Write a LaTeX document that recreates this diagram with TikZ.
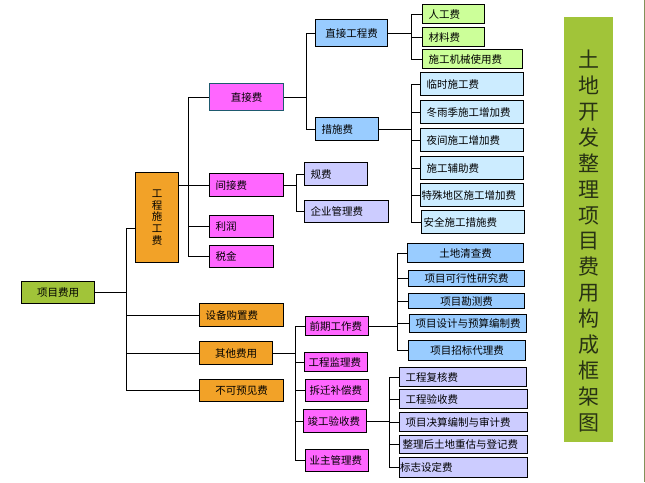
\documentclass[tikz,border=0pt]{standalone}
\usepackage{fontspec}
\usepackage{xcolor}
\usepackage{tikz}
\usetikzlibrary{positioning,calc}
\newfontfamily\cjk{Noto Sans CJK SC}

\definecolor{olivebox}{RGB}{161,196,57}
\definecolor{orangebox}{RGB}{242,162,40}
\definecolor{magbox}{RGB}{255,102,255}
\definecolor{bluebox}{RGB}{153,204,255}
\definecolor{paleblue}{RGB}{204,236,255}
\definecolor{palegreen}{RGB}{204,255,153}
\definecolor{lavbox}{RGB}{204,204,255}
\definecolor{titletext}{RGB}{40,50,20}
\definecolor{edgeline}{RGB}{130,145,90}

\tikzset{
    box/.style={draw=black, line width=1.1pt, anchor=north west, inner ysep=0pt,
        font=\cjk\fontsize{10.5}{12}\selectfont},
    lbox/.style={box, inner xsep=6pt, align=left, text width=#1},
    link/.style={line width=1pt},
}

\begin{document}
\begin{tikzpicture}[x=1pt, y=-1pt]
    \useasboundingbox (0,0) rectangle (645,482);

    % title strip
    \fill[olivebox] (564,17) rectangle (613,442);
    \draw[edgeline, line width=1pt] (644,0) -- (644,482);
    \node[font=\cjk\fontsize{21}{25.9}\selectfont, text=titletext, align=center] (title) at (588.5,241)
        {土\\地\\开\\发\\整\\理\\项\\目\\费\\用\\构\\成\\框\\架\\图};

    % level 0 and 1
    \node[box, fill=olivebox, minimum width=73, minimum height=22] (xmfy) at (21,281) {项目费用};
    \node[box, fill=orangebox, minimum width=43, minimum height=90, align=center,
        font=\cjk\fontsize{10.5}{11.6}\selectfont] (gcsgf) at (135,172) {工\\程\\施\\工\\费};
    \node[lbox=72pt, fill=orangebox, minimum width=84, minimum height=23] (sbgzf) at (199,303) {设备购置费};
    \node[box, fill=orangebox, minimum width=73, minimum height=23] (qtfy) at (199,341) {其他费用};
    \node[box, fill=orangebox, minimum width=84, minimum height=22] (bkyjf) at (199,379) {不可预见费};

    % level 2
    \node[box, draw={rgb,255:red,30;green,90;blue,110}, fill=magbox, minimum width=74, minimum height=27] (zjf) at (209,83) {直接费};
    \node[lbox=62pt, fill=magbox, minimum width=74, minimum height=23] (jjf) at (209,173) {间接费};
    \node[lbox=52pt, fill=magbox, minimum width=64, minimum height=22] (lr) at (209,215) {利润};
    \node[lbox=52pt, fill=magbox, minimum width=64, minimum height=22] (sj) at (209,245) {税金};

    % level 3
    \node[box, fill=bluebox, minimum width=72, minimum height=27] (zjgcf) at (315,19) {直接工程费};
    \node[lbox=51pt, fill=bluebox, minimum width=63, minimum height=23] (csf) at (315,117) {措施费};
    \node[lbox=51pt, fill=lavbox, minimum width=63, minimum height=23] (gf) at (304,162) {规费};
    \node[lbox=72pt, fill=lavbox, minimum width=84, minimum height=22] (qyglf) at (304,200) {企业管理费};

    % direct engineering items
    \node[lbox=50pt, fill=palegreen, minimum width=62, minimum height=19] (rgf) at (422,4) {人工费};
    \node[lbox=50pt, fill=palegreen, minimum width=62, minimum height=19] (clf) at (422,27) {材料费};
    \node[lbox=88pt, fill=palegreen, minimum width=100, minimum height=19] (sgjxsyf) at (422,49) {施工机械使用费};

    % measure items
    \node[lbox=91pt, fill=paleblue, minimum width=103, minimum height=23] (lssgf) at (420,72) {临时施工费};
    \node[lbox=91pt, fill=paleblue, minimum width=103, minimum height=23] (dyjsgzjf) at (420,100) {冬雨季施工增加费};
    \node[lbox=91pt, fill=paleblue, minimum width=103, minimum height=23] (yjsgzjf) at (420,128) {夜间施工增加费};
    \node[lbox=91pt, fill=paleblue, minimum width=103, minimum height=23] (sgfzf) at (420,156) {施工辅助费};
    \node[lbox=101pt, inner xsep=1pt, fill=paleblue, minimum width=103, minimum height=23] (tsdqsgzjf) at (420,183) {特殊地区施工增加费};
    \node[lbox=99pt, inner xsep=2pt, fill=paleblue, minimum width=103, minimum height=23] (aqsgcsf) at (421,210) {安全施工措施费};

    % other costs
    \node[lbox=55pt, inner xsep=4pt, fill=magbox, minimum width=63, minimum height=19] (qqgzf) at (305,316) {前期工作费};
    \node[lbox=55pt, inner xsep=4pt, fill=magbox, minimum width=63, minimum height=19] (gcjlf) at (304,352) {工程监理费};
    \node[lbox=55pt, inner xsep=4pt, fill=magbox, minimum width=63, minimum height=22] (cqbcf) at (305,379) {拆迁补偿费};
    \node[lbox=55pt, inner xsep=4pt, fill=magbox, minimum width=63, minimum height=23] (jgysf) at (303,409) {竣工验收费};
    \node[lbox=55pt, inner xsep=4pt, fill=magbox, minimum width=63, minimum height=22] (yzglf) at (305,449) {业主管理费};

    % preliminary work items
    \node[box, fill=bluebox, minimum width=116, minimum height=19] (tdqcf) at (407,243) {土地清查费};
    \node[box, fill=bluebox, minimum width=116, minimum height=16] (xmkxxyjf) at (408,270) {项目可行性研究费};
    \node[box, fill=bluebox, minimum width=116, minimum height=15] (xmkcf) at (408,293) {项目勘测费};
    \node[box, fill=bluebox, minimum width=117, minimum height=18] (xmsjyysbzf) at (409,314) {项目设计与预算编制费};
    \node[box, fill=bluebox, minimum width=117, minimum height=20] (xmzbdlf) at (408,340) {项目招标代理费};

    % acceptance items
    \node[lbox=115pt, fill=lavbox, minimum width=127, minimum height=19] (gcfhf) at (399,367) {工程复核费};
    \node[lbox=116pt, fill=lavbox, minimum width=128, minimum height=19] (gcysf) at (399,389) {工程验收费};
    \node[lbox=116pt, fill=lavbox, minimum width=128, minimum height=19] (xmjsbzysjf) at (399,412) {项目决算编制与审计费};
    \node[lbox=122pt, inner xsep=3pt, fill=lavbox, minimum width=128, minimum height=18] (zlhtdgdjf) at (399,435) {整理后土地重估与登记费};
    \node[lbox=127pt, inner xsep=0.5pt, fill=lavbox, minimum width=128, minimum height=20] (bzsdf) at (399,457) {标志设定费};

    % connectors
    \draw[link] (xmfy.east) -- ++(31,0) coordinate (b0);
    \draw[link] (b0) |- ([yshift=-11pt]gcsgf.west);
    \foreach \n in {sbgzf,qtfy,bkyjf}
        \draw[link] (b0) |- (\n.west);

    \draw[link] (gcsgf.east |- jjf.west) -- (jjf.west);
    \draw[link] (zjf.west) -- ++(-21,0) coordinate (b1) |- (sj.west);
    \draw[link] (lr.west) -- (lr.west -| b1);

    \draw[link] (zjf.east) -- ++(22,0) coordinate (b2);
    \foreach \n in {zjgcf,csf}
        \draw[link] (b2) |- (\n.west);

    \draw[link] (jjf.east) -- ++(12,0) coordinate (b3);
    \foreach \n in {gf,qyglf}
        \draw[link] (b3) |- (\n.west);

    \draw[link] (zjgcf.east) -- ++(23,0) coordinate (b4);
    \foreach \n in {rgf,clf,sgjxsyf}
        \draw[link] (b4) |- (\n.west);

    \draw[link] (csf.east) -- ++(32,0) coordinate (b5);
    \foreach \n in {lssgf,dyjsgzjf,yjsgzjf,sgfzf,tsdqsgzjf,aqsgcsf}
        \draw[link] (b5) |- (\n.west);

    \draw[link] (qtfy.east) -- ++(22,0) coordinate (b6);
    \foreach \n in {qqgzf,gcjlf,cqbcf,jgysf,yzglf}
        \draw[link] (b6) |- (\n.west);

    \draw[link] (qqgzf.east) -- ++(28,0) coordinate (b7);
    \foreach \n in {tdqcf,xmkxxyjf,xmkcf,xmsjyysbzf,xmzbdlf}
        \draw[link] (b7) |- (\n.west);

    \draw[link] (jgysf.east) -- ++(22,0) coordinate (b8);
    \foreach \n in {gcfhf,gcysf,xmjsbzysjf,zlhtdgdjf,bzsdf}
        \draw[link] (b8) |- (\n.west);
\end{tikzpicture}
\end{document}
